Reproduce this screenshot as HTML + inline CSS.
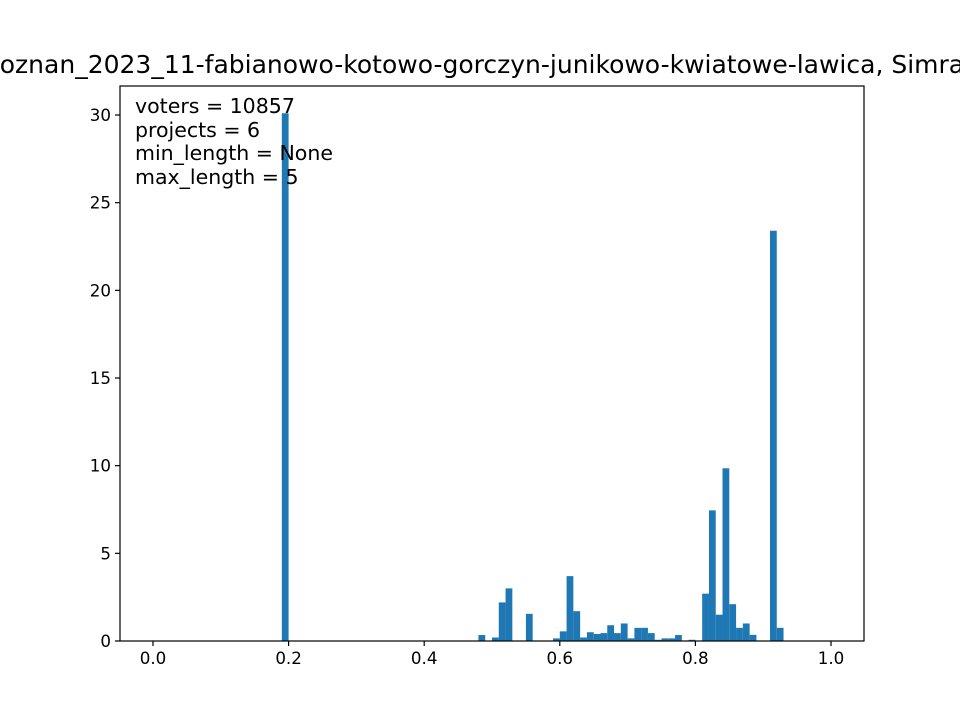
<!DOCTYPE html>
<html><head><meta charset="utf-8"><style>body{margin:0;background:#fff}svg{display:block;font-family:"DejaVu Sans","Liberation Sans",sans-serif}</style></head>
<body>
<svg id="chart" width="960" height="720">
<text x="490" y="73" font-size="25" text-anchor="middle">Poznan_2023_11-fabianowo-kotowo-gorczyn-junikowo-kwiatowe-lawica, Simrank</text>
<g id="bars"></g>
<g id="axes"></g>
<g font-size="20.5">
<text x="135" y="113">voters = 10857</text>
<text x="135" y="137">projects = 6</text>
<text x="135" y="160">min_length = None</text>
<text x="135" y="184">max_length = 5</text>
</g>
</svg>
<script>
const binStarts=[0.19,0.48,0.50,0.51,0.52,0.55,0.59,0.60,0.61,0.62,0.63,0.64,0.65,0.66,0.67,0.68,0.69,0.70,0.71,0.72,0.73,0.74,0.75,0.76,0.77,0.79,0.81,0.82,0.83,0.84,0.85,0.86,0.87,0.88,0.91,0.92];
const counts=[30.1,0.34,0.2,2.2,3.0,1.55,0.15,0.55,3.7,1.7,0.2,0.5,0.4,0.45,0.9,0.45,1.0,0.15,0.75,0.75,0.45,0.07,0.15,0.15,0.34,0.07,2.7,7.45,1.5,9.85,2.1,0.75,1.0,0.35,23.4,0.75];
const xTicks=[0,0.2,0.4,0.6,0.8,1.0];
const xTickLabels=["0.0","0.2","0.4","0.6","0.8","1.0"];
const yTicks=[0,5,10,15,20,25,30];
const binWidth=0.01;
const L=120,R=864,T=86,B=641;
const xs=v=>153+v*678;
const ys=v=>641-v*17.533;
const NS="http://www.w3.org/2000/svg";
const bars=document.getElementById('bars');
binStarts.forEach((b,i)=>{
 const r=document.createElementNS(NS,'rect');
 r.setAttribute('x',xs(b));r.setAttribute('width',xs(b+binWidth)-xs(b));
 r.setAttribute('y',ys(counts[i]));r.setAttribute('height',ys(0)-ys(counts[i]));
 r.setAttribute('fill','#1f77b4');
 
 
 bars.appendChild(r);
});
const ax=document.getElementById('axes');
function el(t,a,txt){const e=document.createElementNS(NS,t);for(const k in a)e.setAttribute(k,a[k]);if(txt!==undefined)e.textContent=txt;ax.appendChild(e);return e;}
const frame=el('rect',{x:L,y:T,width:R-L,height:B-T,fill:'none',stroke:'#000','stroke-width':1.2});


xTicks.forEach((v,i)=>{
 el('line',{x1:xs(v),x2:xs(v),y1:B,y2:B+5,stroke:'#000','stroke-width':1.2});
 const t=el('text',{x:xs(v),y:B+23,'font-size':16.7,'text-anchor':'middle'},xTickLabels[i]);
 
 
});
yTicks.forEach(v=>{
 el('line',{x1:L-5,x2:L,y1:ys(v),y2:ys(v),stroke:'#000','stroke-width':1.2});
 const t=el('text',{x:L-9,y:ys(v)+6,'font-size':16.7,'text-anchor':'end'},String(v));
 
 
});
</script>
</body></html>
